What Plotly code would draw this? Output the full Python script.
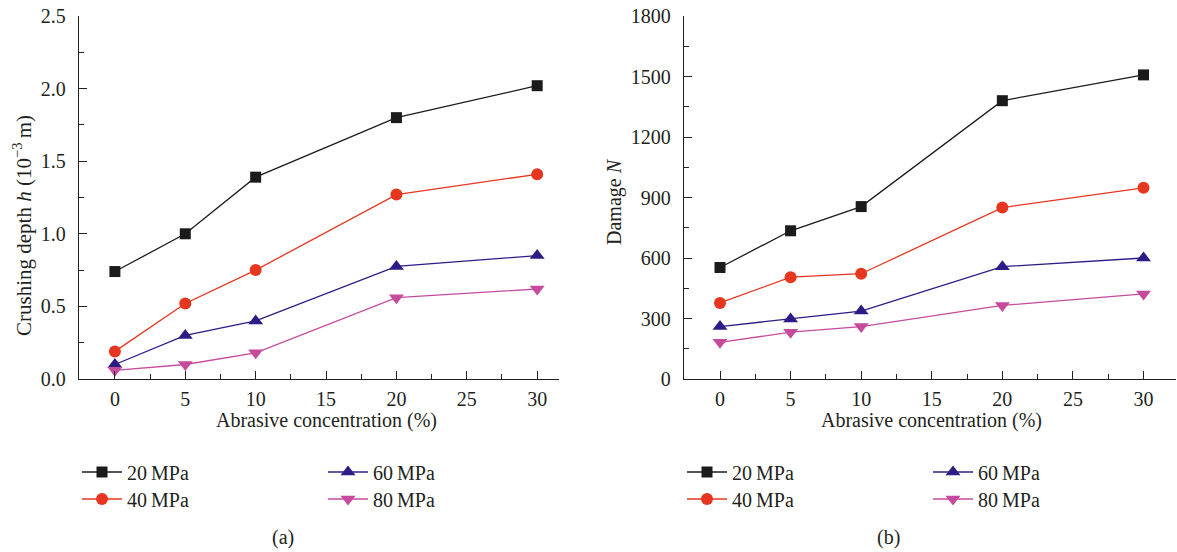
import plotly.graph_objects as go

# Abrasive concentration (%) for every series
concentration = [0, 5, 10, 20, 30]

# Crushing depth h (10^-3 m) at each water pressure
depth_20 = [0.74, 1.00, 1.39, 1.80, 2.02]
depth_40 = [0.19, 0.52, 0.75, 1.27, 1.41]
depth_60 = [0.10, 0.30, 0.40, 0.775, 0.85]
depth_80 = [0.06, 0.10, 0.18, 0.56, 0.62]

# Damage N at each water pressure
damage_20 = [553, 735, 855, 1380, 1508]
damage_40 = [377, 505, 522, 850, 948]
damage_60 = [260, 297, 337, 557, 600]
damage_80 = [182, 232, 260, 365, 422]

pressure_labels = ["20\u2009MPa", "40\u2009MPa", "60\u2009MPa", "80\u2009MPa"]
x_ticks = [0, 5, 10, 15, 20, 25, 30]
depth_ticks = [0.0, 0.5, 1.0, 1.5, 2.0, 2.5]
damage_ticks = [0, 300, 600, 900, 1200, 1500, 1800]

W, H = 1177, 552
FONT = "Liberation Serif"
INK = "#231f20"

styles = [
    dict(color="#1b1b1b", symbol="square", size=11),
    dict(color="#e6361f", symbol="circle", size=12),
    dict(color="#2e1c86", symbol="triangle-up", size=13),
    dict(color="#c64b9c", symbol="triangle-down", size=13),
]

fig = go.Figure()

panels = [
    ("x", "y", [depth_20, depth_40, depth_60, depth_80], 0),
    ("x2", "y2", [damage_20, damage_40, damage_60, damage_80], 4),
]
for xa, ya, series, leg_off in panels:
    for i, (vals, st, name) in enumerate(zip(series, styles, pressure_labels)):
        leg_id = leg_off + i + 1
        fig.add_trace(go.Scatter(
            x=concentration, y=vals, name=name, mode="lines+markers",
            xaxis=xa, yaxis=ya, showlegend=True,
            legend="legend" if leg_id == 1 else f"legend{leg_id}",
            line=dict(color=st["color"], width=1.3),
            marker=dict(symbol=st["symbol"], size=st["size"], color=st["color"],
                        line=dict(width=0)),
        ))

def px_x(v):
    return v / W

def px_y(v):
    return 1 - v / H

axis_common = dict(
    showline=True, linecolor=INK, linewidth=1.3, mirror=False,
    showgrid=False, zeroline=False, automargin=False,
    ticks="inside", ticklen=8, tickwidth=1.3, tickcolor=INK,
    tickfont=dict(family=FONT, size=20, color=INK),
)

y_dom = [px_y(379), px_y(16)]

fig.update_layout(
    width=W, height=H, margin=dict(l=0, r=0, t=0, b=0, autoexpand=False),
    paper_bgcolor="white", plot_bgcolor="white", showlegend=True,
    font=dict(family=FONT, size=20, color=INK),
    xaxis=dict(domain=[px_x(79), px_x(559)], range=[-2.55, 31.55],
               tickvals=x_ticks, anchor="y", ticklabelstandoff=2,
               minor=dict(ticks="inside", ticklen=5, tickwidth=1.3, tickcolor=INK, dtick=2.5, tick0=0),
               **axis_common),
    yaxis=dict(domain=y_dom, range=[0, 2.5], tickvals=depth_ticks,
               ticktext=[f"{v:.1f}" for v in depth_ticks], anchor="x",
               ticklabelstandoff=8,
               minor=dict(ticks="inside", ticklen=5, tickwidth=1.3, tickcolor=INK, dtick=0.25, tick0=0),
               **axis_common),
    xaxis2=dict(domain=[px_x(684), px_x(1176)], range=[-2.55, 32.3],
                tickvals=x_ticks, anchor="y2", ticklabelstandoff=2,
                minor=dict(ticks="inside", ticklen=5, tickwidth=1.3, tickcolor=INK, dtick=2.5, tick0=0),
                **axis_common),
    yaxis2=dict(domain=y_dom, range=[0, 1800], tickvals=damage_ticks,
                anchor="x2", ticklabelstandoff=8,
                minor=dict(ticks="inside", ticklen=5, tickwidth=1.3, tickcolor=INK, dtick=150, tick0=0),
                **axis_common),
)

# legends: two columns by two rows under each panel
legend_pos = [
    (97, 472), (97, 499), (343, 472), (343, 499),
    (702, 472), (702, 499), (948, 472), (948, 499),
]
for k, (mx, my) in enumerate(legend_pos):
    key = "legend" if k == 0 else f"legend{k + 1}"
    fig.update_layout({key: dict(
        x=px_x(mx - 20), y=px_y(my), xanchor="left", yanchor="middle",
        bgcolor="rgba(0,0,0,0)", borderwidth=0,
        font=dict(family=FONT, size=20, color=INK),
        itemwidth=40, visible=True,
    )})

annotations = [
    dict(text="Abrasive concentration (%)", x=px_x(326), y=px_y(421)),
    dict(text="Abrasive concentration (%)", x=px_x(931), y=px_y(421)),
    dict(text="Crushing depth <i>h</i> (10<sup>\u22123</sup>\u2009m)", x=px_x(22), y=px_y(226),
         textangle=-90, font=dict(family=FONT, size=21, color=INK)),
    dict(text="Damage <i>N</i>", x=px_x(614), y=px_y(202), textangle=-90),
    dict(text="(a)", x=px_x(283), y=px_y(537)),
    dict(text="(b)", x=px_x(888), y=px_y(537)),
]
for a in annotations:
    a.setdefault("font", dict(family=FONT, size=20, color=INK))
    fig.add_annotation(xref="paper", yref="paper", showarrow=False,
                       xanchor="center", yanchor="middle", **a)

fig.write_html("out.html")
